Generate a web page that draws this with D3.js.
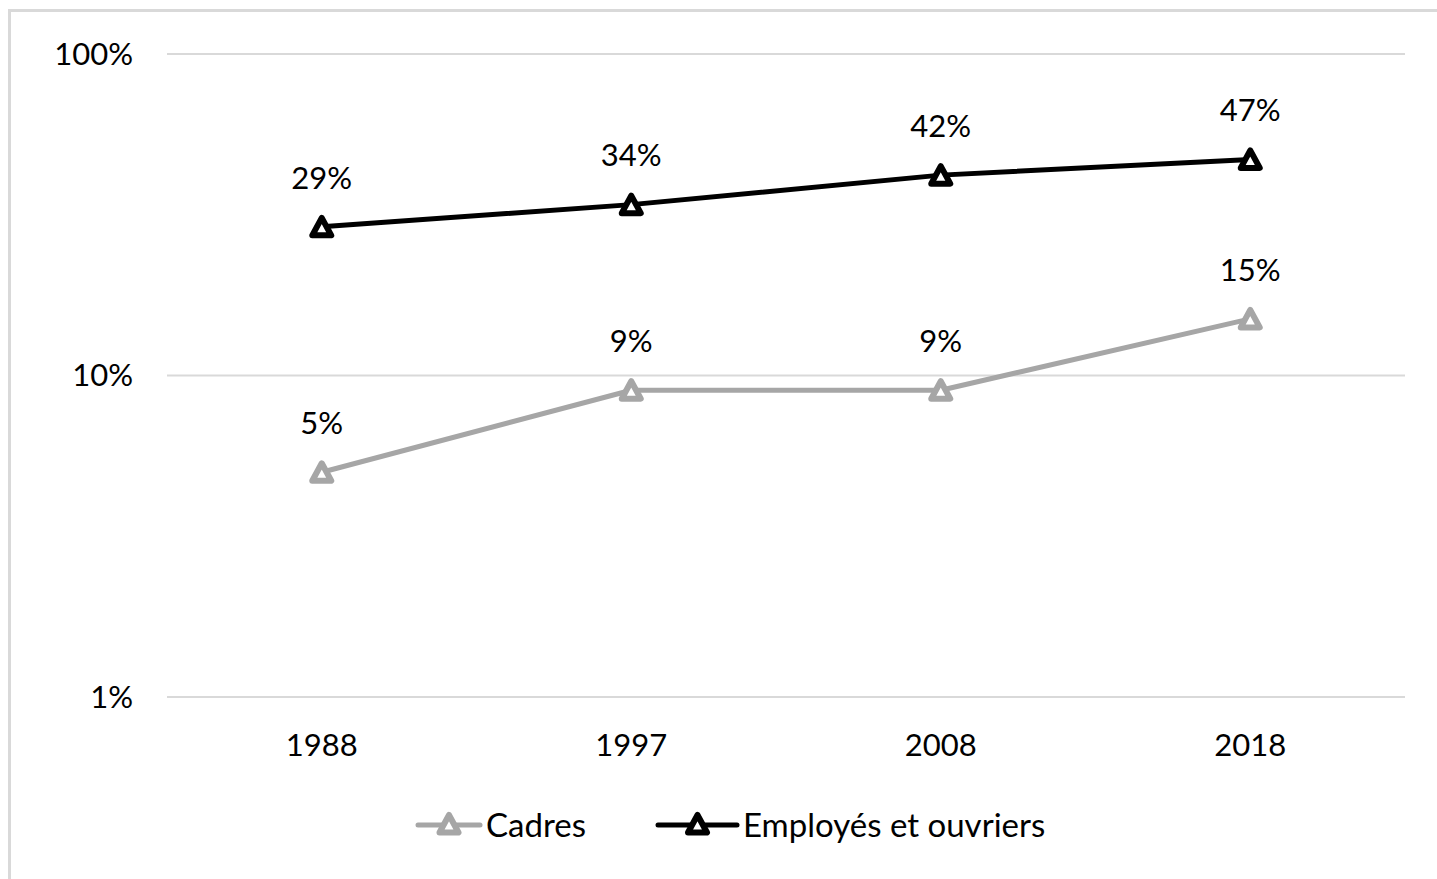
<!DOCTYPE html>
<html><head><meta charset="utf-8">
<script src="https://cdn.jsdelivr.net/npm/d3@7"></script>
<style>body{margin:0;background:#fff;} svg{display:block;}</style>
</head><body>
<script>
const years = ["1988","1997","2008","2018"];
const cadres = [0.05, 0.09, 0.09, 0.15];
const employes = [0.29, 0.34, 0.42, 0.47];
const seriesNames = ["Cadres", "Employés et ouvriers"];
const seriesColors = ["#a6a6a6", "#000000"];
const yTicks = [0.01, 0.1, 1];
const yTickLabels = ["1%", "10%", "100%"];

(function () {
const W = 1437, H = 879;
const font = "Lato, 'Open Sans', sans-serif";
const svg = d3.select("body").append("svg").attr("width", W).attr("height", H);
svg.append("rect").attr("x", 9.5).attr("y", 10.5).attr("width", W + 20).attr("height", H + 20)
  .attr("fill", "#fff").attr("stroke", "#d9d9d9").attr("stroke-width", 3);

const pLeft = 167, pRight = 1405, pTop = 54, pBottom = 697;
const x = d3.scaleBand().domain(years).range([pLeft, pRight]);
const y = d3.scaleLog().domain([0.01, 1]).range([pBottom, pTop]);

svg.append("g").selectAll("line").data(yTicks).join("line")
  .attr("x1", pLeft).attr("x2", pRight)
  .attr("y1", d => y(d)).attr("y2", d => y(d))
  .attr("stroke", "#d9d9d9").attr("stroke-width", 2);

svg.append("g").selectAll("text").data(yTicks).join("text")
  .attr("x", 133).attr("y", d => y(d)).attr("dy", "0.35em")
  .attr("text-anchor", "end").attr("font-family", font).attr("font-size", 31).attr("fill", "#000")
  .text((d, i) => yTickLabels[i]);

svg.append("g").selectAll("text").data(years).join("text")
  .attr("x", d => x(d) + x.bandwidth() / 2).attr("y", 745).attr("dy", "0.35em")
  .attr("text-anchor", "middle").attr("font-family", font).attr("font-size", 31).attr("fill", "#000")
  .text(d => d);

const tri = (cx, cy) => {
  return `M${cx},${cy - 10}L${cx + 9.5},${cy + 7.5}L${cx - 9.5},${cy + 7.5}Z`;
};

const series = [cadres, employes];
series.forEach((vals, si) => {
  const col = seriesColors[si];
  const pts = vals.map((v, i) => [x(years[i]) + x.bandwidth() / 2, y(v)]);
  svg.append("path").attr("d", d3.line()(pts)).attr("fill", "none")
    .attr("stroke", col).attr("stroke-width", 5).attr("stroke-linejoin", "round").attr("stroke-linecap", "round");
  svg.append("g").selectAll("path").data(pts).join("path")
    .attr("d", p => tri(p[0], p[1] + 1)).attr("fill", "#fff").attr("stroke", col)
    .attr("stroke-width", 6).attr("stroke-linejoin", "round");
  svg.append("g").selectAll("text").data(vals).join("text")
    .attr("x", (v, i) => pts[i][0]).attr("y", (v, i) => pts[i][1] - 49).attr("dy", "0.35em")
    .attr("text-anchor", "middle").attr("font-family", font).attr("font-size", 31).attr("fill", "#000")
    .text(v => Math.round(v * 100) + "%");
});

const legendItems = [{x1: 418, x2: 480, tx: 486}, {x1: 658, x2: 737, tx: 743}];
legendItems.forEach((it, i) => {
  const g = svg.append("g");
  const ly = 825;
  g.append("line").attr("x1", it.x1).attr("x2", it.x2).attr("y1", ly).attr("y2", ly)
    .attr("stroke", seriesColors[i]).attr("stroke-width", 5).attr("stroke-linecap", "round");
  g.append("path").attr("d", tri((it.x1 + it.x2) / 2, ly)).attr("fill", "#fff")
    .attr("stroke", seriesColors[i]).attr("stroke-width", 6).attr("stroke-linejoin", "round");
  g.append("text").attr("x", it.tx).attr("y", ly).attr("dy", "0.35em")
    .attr("font-family", font).attr("font-size", 33).attr("fill", "#000").text(seriesNames[i]);
});
})();
</script>
</body></html>
